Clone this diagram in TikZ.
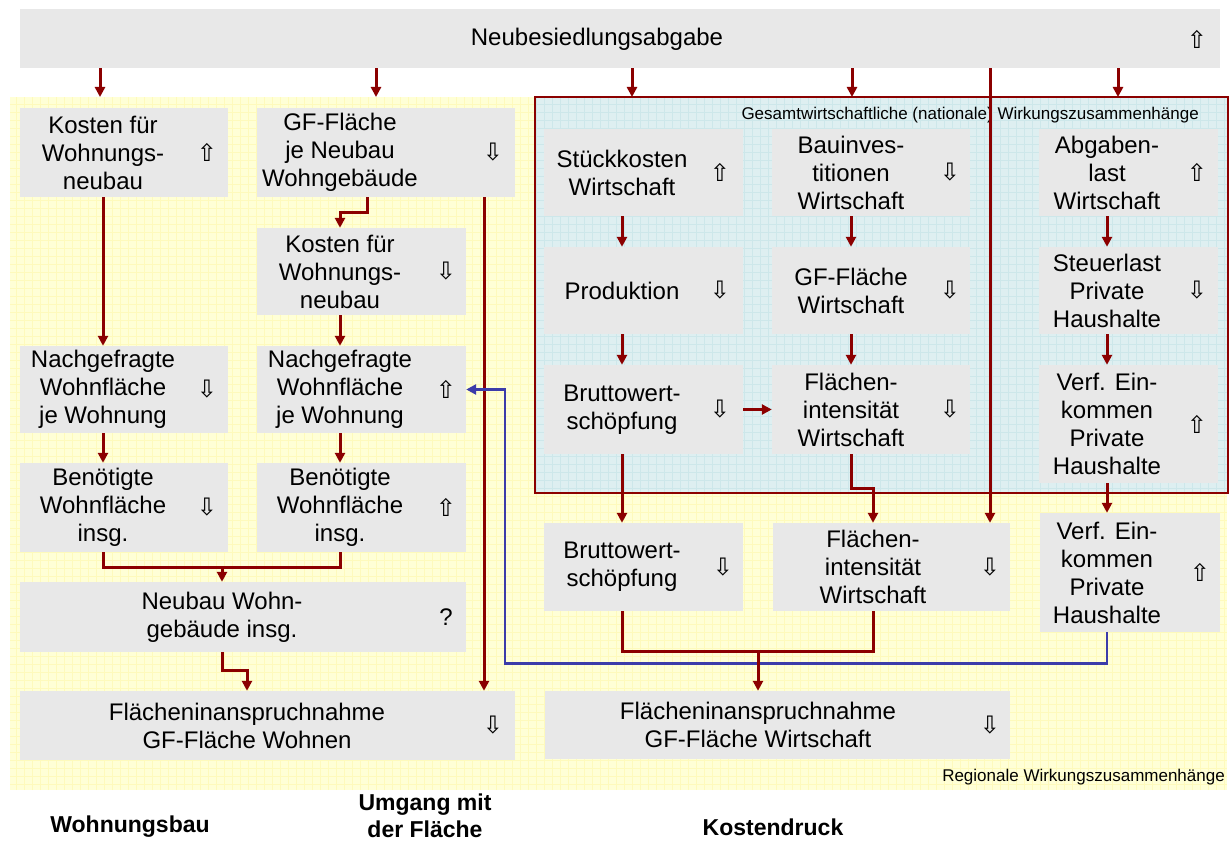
\documentclass[tikz,border=0pt]{standalone}
\usepackage{fontspec}
\setmainfont{Liberation Sans}
\newfontfamily\symfont{DejaVu Sans}
\usepackage{xcolor}
\usepackage{tikz}
\usetikzlibrary{arrows.meta, positioning, calc, fit}

\definecolor{kastengrau}{RGB}{232,232,232}
\definecolor{pfeilrot}{RGB}{139,0,0}
\definecolor{pfeilblau}{RGB}{60,60,170}
\definecolor{regiogelb}{RGB}{255,255,214}
\definecolor{regioraster}{RGB}{254,250,188}
\definecolor{nationblau}{RGB}{222,239,241}
\definecolor{nationraster}{RGB}{205,231,234}

\tikzset{
  kasten/.style={fill=kastengrau, inner sep=0pt},
  txt/.style={align=center, font=\fontsize{24}{28}\selectfont, inner sep=0pt},
  sym/.style={font=\symfont\fontsize{24}{26}\selectfont, inner sep=0pt},
  klein/.style={font=\fontsize{17}{20}\selectfont, inner sep=0pt},
  titel/.style={align=center, font=\bfseries\fontsize{23}{27}\selectfont, inner sep=0pt},
  linie/.style={draw=pfeilrot, line width=3pt},
  wirkung/.style={linie, -{Triangle[length=10pt, width=10pt]}},
  rueck/.style={draw=pfeilblau, line width=2.6pt, -{Triangle[length=10pt, width=10pt]}}
}

\begin{document}
\begin{tikzpicture}[x=1pt, y=-1pt]
    \useasboundingbox (0,0) rectangle (1232,842);

    % regional background
    \fill[regiogelb] (10,97) rectangle (1227,790);
    \draw[regioraster, line width=0.5pt, step=8pt] (10,97) grid (1227,790);

    % national background
    \fill[nationblau] (535,97) rectangle (1228,493);
    \draw[nationraster, line width=0.5pt, step=8pt] (535,97) grid (1228,493);
    \draw[pfeilrot, line width=1.5pt] (535,97) rectangle (1228,493);

    \node[klein, anchor=east] (natlabel) at (1199,115) {Gesamtwirtschaftliche (nationale) Wirkungszusammenhänge};
    \node[klein, anchor=east] (reglabel) at (1225,777) {Regionale Wirkungszusammenhänge};

    % Neubesiedlungsabgabe
    \node[kasten, fit={(20,9) (1220,68)}] (top) {};
    \node[txt] (topt) at (597,39) {Neubesiedlungsabgabe};
    \node[sym] (tops) at (1197,39) {⇧};

    % Wohnungsbau
    \node[kasten, fit={(20,108) (228,197)}] (k1) {};
    \node[txt] (k1t) at (103,152.5) {Kosten für\\Wohnungs-\\neubau};
    \node[sym] (k1s) at (207,152.5) {⇧};

    \node[kasten, fit={(20,346) (228,433)}] (n1) {};
    \node[txt] (n1t) at (103,389.5) {Nachgefragte\\Wohnfläche\\je Wohnung};
    \node[sym] (n1s) at (207,389.5) {⇩};

    \node[kasten, fit={(20,463) (228,552)}] (b1) {};
    \node[txt] (b1t) at (103,507.5) {Benötigte\\Wohnfläche\\insg.};
    \node[sym] (b1s) at (207,507.5) {⇩};

    % Umgang mit der Flaeche
    \node[kasten, fit={(257,108) (515,197)}] (g1) {};
    \node[txt] (g1t) at (340,152.5) {GF-Fläche\\je Neubau\\Wohngebäude};
    \node[sym] (g1s) at (493,152.5) {⇩};

    \node[kasten, fit={(257,228) (466,315)}] (k2) {};
    \node[txt] (k2t) at (340,271.5) {Kosten für\\Wohnungs-\\neubau};
    \node[sym] (k2s) at (446,271.5) {⇩};

    \node[kasten, fit={(257,346) (466,433)}] (n2) {};
    \node[txt] (n2t) at (340,389.5) {Nachgefragte\\Wohnfläche\\je Wohnung};
    \node[sym] (n2s) at (446,389.5) {⇧};

    \node[kasten, fit={(257,463) (466,552)}] (b2) {};
    \node[txt] (b2t) at (340,507.5) {Benötigte\\Wohnfläche\\insg.};
    \node[sym] (b2s) at (446,507.5) {⇧};

    \node[kasten, fit={(20,582) (466,652)}] (nw) {};
    \node[txt] (nwt) at (222,617) {Neubau Wohn-\\gebäude insg.};
    \node[txt] (nws) at (446,617) {?};

    \node[kasten, fit={(20,691) (515,760)}] (fw) {};
    \node[txt] (fwt) at (247,725.5) {Flächeninanspruchnahme\\GF-Fläche Wohnen};
    \node[sym] (fws) at (493,725.5) {⇩};

    % Kostendruck, national
    \node[kasten, fit={(544,129) (743,216)}] (s) {};
    \node[txt] (st) at (622,172.5) {Stückkosten\\Wirtschaft};
    \node[sym] (ss) at (720,172.5) {⇧};

    \node[kasten, fit={(772,129) (970,216)}] (bi) {};
    \node[txt] (bit) at (851,172.5) {Bauinves-\\titionen\\Wirtschaft};
    \node[sym] (bis) at (950,172.5) {⇩};

    \node[kasten, fit={(1039,129) (1218,216)}] (ab) {};
    \node[txt] (abt) at (1107,172.5) {Abgaben-\\last\\Wirtschaft};
    \node[sym] (abs) at (1197,172.5) {⇧};

    \node[kasten, fit={(544,247) (743,334)}] (p) {};
    \node[txt] (pt) at (622,290.5) {Produktion};
    \node[sym] (ps) at (720,290.5) {⇩};

    \node[kasten, fit={(772,247) (970,334)}] (gfw) {};
    \node[txt] (gfwt) at (851,290.5) {GF-Fläche\\Wirtschaft};
    \node[sym] (gfws) at (950,290.5) {⇩};

    \node[kasten, fit={(1039,247) (1218,334)}] (sl) {};
    \node[txt] (slt) at (1107,290.5) {Steuerlast\\Private\\Haushalte};
    \node[sym] (sls) at (1197,290.5) {⇩};

    \node[kasten, fit={(544,365) (743,454)}] (bw) {};
    \node[txt] (bwt) at (622,409.5) {Bruttowert-\\schöpfung};
    \node[sym] (bws) at (720,409.5) {⇩};

    \node[kasten, fit={(772,365) (970,454)}] (fl) {};
    \node[txt] (flt) at (851,409.5) {Flächen-\\intensität\\Wirtschaft};
    \node[sym] (fls) at (950,409.5) {⇩};

    \node[kasten, fit={(1039,365) (1218,483)}] (ve) {};
    \node[txt] (vet) at (1107,424) {Verf. Ein-\\kommen\\Private\\Haushalte};
    \node[sym] (ves) at (1197,424) {⇧};

    % Kostendruck, regional
    \node[kasten, fit={(544,523) (743,611)}] (bw2) {};
    \node[txt] (bw2t) at (622,567) {Bruttowert-\\schöpfung};
    \node[sym] (bw2s) at (723,567) {⇩};

    \node[kasten, fit={(773,523) (1010,611)}] (fl2) {};
    \node[txt] (fl2t) at (873,567) {Flächen-\\intensität\\Wirtschaft};
    \node[sym] (fl2s) at (990,567) {⇩};

    \node[kasten, fit={(1040,513) (1220,632)}] (ve2) {};
    \node[txt] (ve2t) at (1107,572.5) {Verf. Ein-\\kommen\\Private\\Haushalte};
    \node[sym] (ve2s) at (1200,572.5) {⇧};

    \node[kasten, fit={(545,691) (1010,759)}] (fgw) {};
    \node[txt] (fgwt) at (758,725) {Flächeninanspruchnahme\\GF-Fläche Wirtschaft};
    \node[sym] (fgws) at (990,725) {⇩};

    % column titles
    \node[titel] (wohnbau) at (130,827) {Wohnungsbau};
    \node[titel] (umgang) at (425,816) {Umgang mit\\der Fläche};
    \node[titel] (kosten) at (773,827) {Kostendruck};

    % arrows from the levy
    \coordinate (e1) at (100,97);
    \coordinate (e2) at (376,97);
    \coordinate (e3) at (632,97);
    \coordinate (e4) at (852,97);
    \coordinate (e5) at (1118,97);
    \foreach \e in {e1,e2,e3,e4,e5}
      \draw[wirkung] (top.south -| \e) -- (\e);
    \draw[wirkung] (top.south -| fl2s) -- (fl2s |- fl2.north);

    % Wohnungsbau
    \draw[wirkung] (k1t |- k1.south) -- (k1t |- n1.north);
    \draw[wirkung] (n1t |- n1.south) -- (n1t |- b1.north);

    % Umgang mit der Flaeche
    \coordinate (g1k) at (367,0);
    \coordinate (g1f) at (484,0);
    \draw[wirkung] (g1.south -| g1k) -- ++(0,15) -| (k2t |- k2.north);
    \draw[wirkung] (g1.south -| g1f) -- (fw.north -| g1f);
    \draw[wirkung] (k2t |- k2.south) -- (k2t |- n2.north);
    \draw[wirkung] (n2t |- n2.south) -- (n2t |- b2.north);

    \draw[linie] (b1t |- b1.south) -- ++(0,15) coordinate (bm) -| (b2t |- b2.south);
    \draw[wirkung] (bm -| nwt) -- (nwt |- nw.north);
    \draw[wirkung] (nwt |- nw.south) -- ++(0,18) -| (fwt |- fw.north);

    % feedback of income
    \coordinate (rk) at (505,389.5);
    \draw[rueck] (ve2t |- ve2.south) -- ++(0,31) -| (rk) -- (n2.east);

    % Kostendruck
    \draw[wirkung] (st |- s.south) -- (st |- p.north);
    \draw[wirkung] (pt |- p.south) -- (pt |- bw.north);
    \draw[wirkung] (bwt |- bw.south) -- (bwt |- bw2.north);
    \draw[wirkung] (bw.east) -- (fl.west);
    \draw[wirkung] (bit |- bi.south) -- (bit |- gfw.north);
    \draw[wirkung] (gfwt |- gfw.south) -- (gfwt |- fl.north);
    \draw[wirkung] (flt |- fl.south) -- ++(0,34) -| (fl2t |- fl2.north);
    \draw[wirkung] (abt |- ab.south) -- (abt |- sl.north);
    \draw[wirkung] (slt |- sl.south) -- (slt |- ve.north);
    \draw[wirkung] (vet |- ve.south) -- (vet |- ve2.north);

    \draw[linie] (bw2t |- bw2.south) -- ++(0,40) coordinate (wm) -| (fl2t |- fl2.south);
    \draw[wirkung] (wm -| fgwt) -- (fgwt |- fgw.north);

\end{tikzpicture}
\end{document}
